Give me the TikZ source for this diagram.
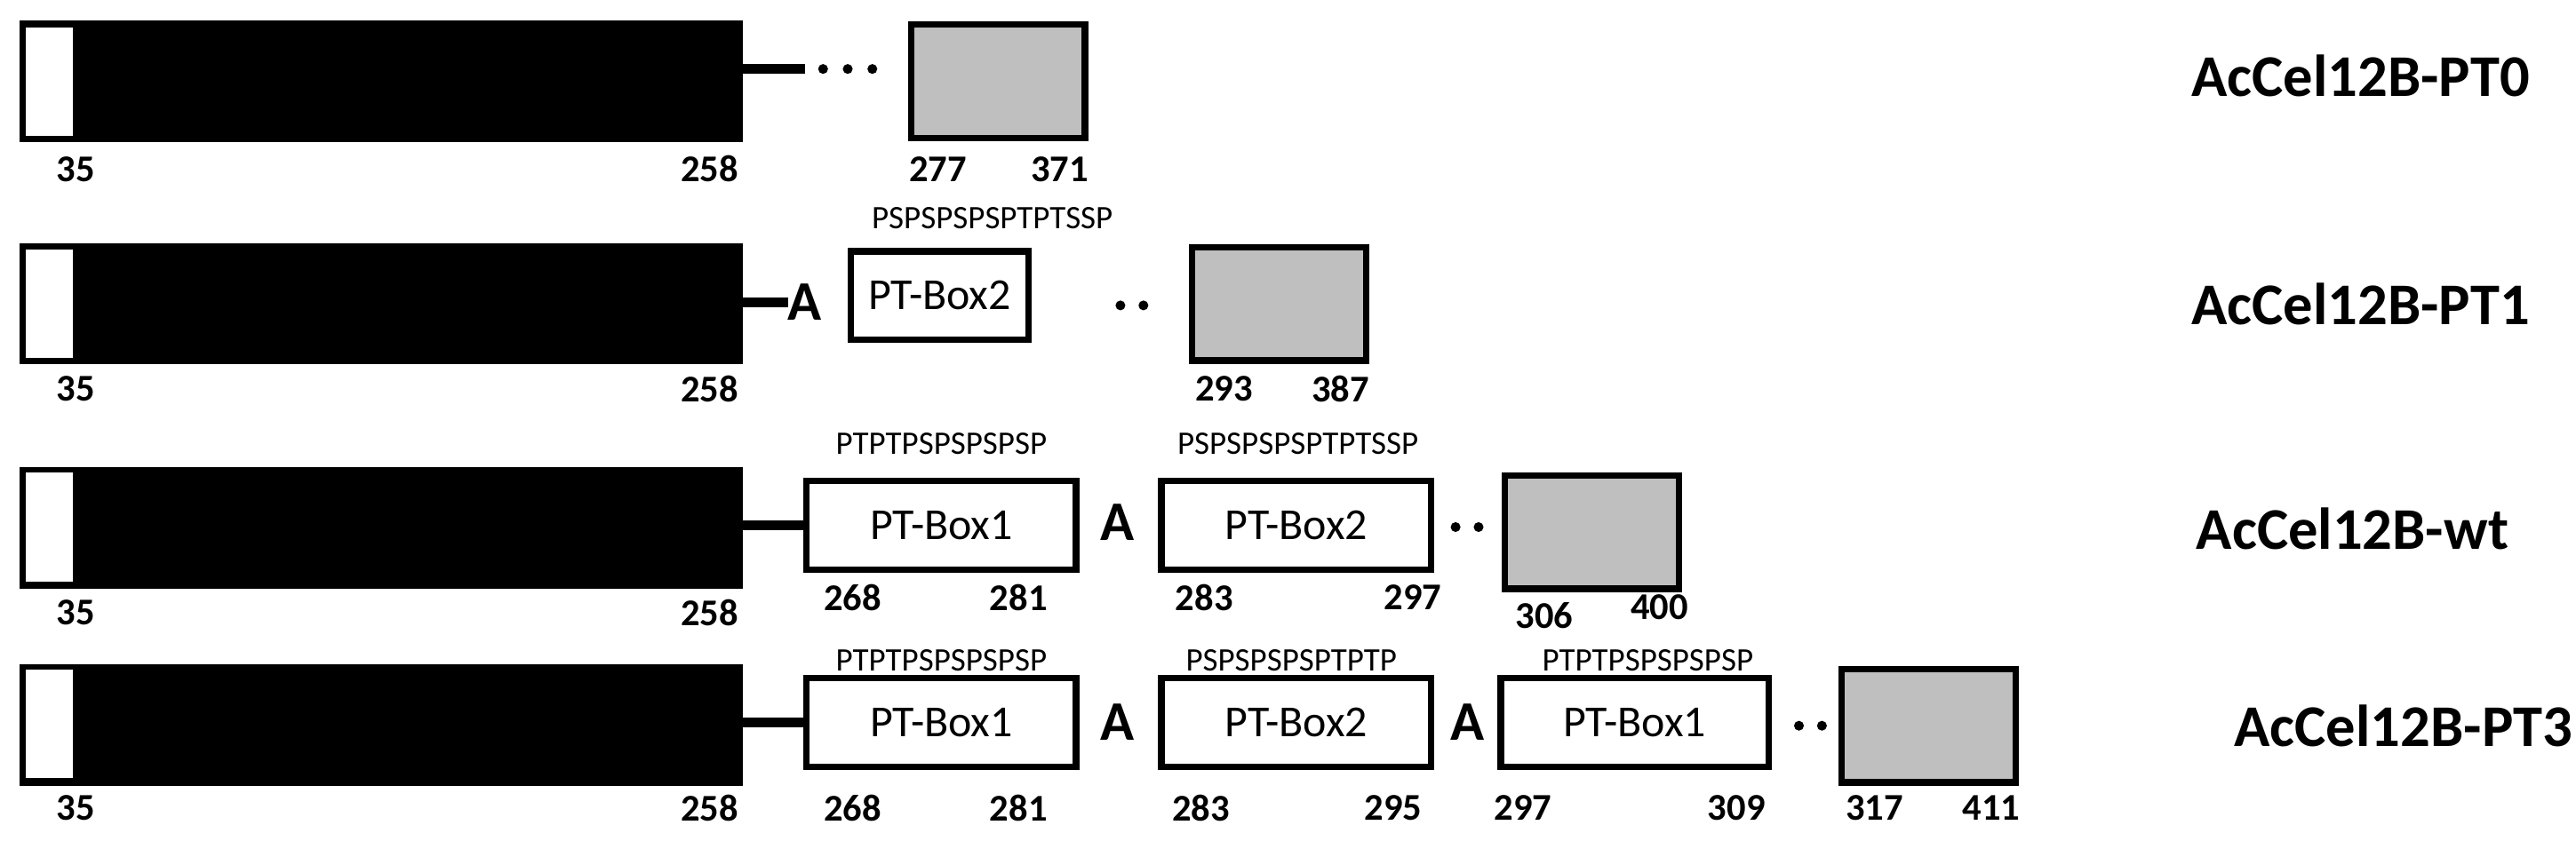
\documentclass[tikz,border=0pt]{standalone}
\usepackage{fontspec}
\setmainfont{Carlito}
\begin{document}
\begin{tikzpicture}[x=1pt,y=-1pt,
 cat/.style={draw=black,fill=black,line width=3pt,minimum width=437pt,minimum height=71pt,inner sep=0pt},
 sig/.style={fill=white,minimum width=29pt,minimum height=66pt,inner sep=0pt},
 cbm/.style={draw=black,fill=gray!50,line width=4pt,minimum width=106pt,minimum height=69pt,inner sep=0pt},
 box/.style={draw=black,fill=white,line width=4pt,minimum height=54pt,inner sep=0pt,font=\fontsize{27}{27}\selectfont},
 seq/.style={font=\fontsize{20}{20}\selectfont,inner sep=0pt},
 num/.style={font=\bfseries\fontsize{23}{23}\selectfont,inner sep=0pt},
 ala/.style={font=\bfseries\fontsize{34}{34}\selectfont,inner sep=0pt},
 ttl/.style={font=\bfseries\fontsize{36}{36}\selectfont,inner sep=0pt},
 lnk/.style={line width=6pt},
 dot/.style={circle,fill=black,inner sep=0pt,minimum size=6pt}]
\useasboundingbox (0,0) rectangle (1568,512);
% Row 1
\node[cat] (c1) at (232,49.5) {};
\node[sig] (s1) at (30,50) {};
\node[cbm] (g1) at (607.5,49.5) {};
\coordinate (e1) at (490,42);
\draw[lnk] (c1.east|-e1) -- (e1);
\node[dot] (d11) at (501,42) {};\node[dot] (d12) at (516,42) {};\node[dot] (d13) at (531,42) {};
\node[num] (n11) at (46,103) {35};\node[num] (n12) at (432,103) {258};
\node[num] (n13) at (571,103) {277};\node[num] (n14) at (645,103) {371};
\node[ttl,anchor=east] (t1) at (1540,46) {AcCel12B-PT0};
% Row 2
\node[cat] (c2) at (232,185) {};
\node[sig] (s2) at (30,185) {};
\node[ala] (a21) at (490,184) {A};
\draw[lnk] (c2.east|-a21) -- (a21.west);
\node[box,minimum width=108pt] (b21) at (572,180) {PT-Box2};
\node[seq] (q21) at (604,133) {PSPSPSPSPTPTSSP};
\node[dot] (d21) at (682,186) {};\node[dot] (d22) at (696,186) {};
\node[cbm] (g2) at (778.5,185) {};
\node[num] (n21) at (46,237) {35};\node[num] (n22) at (432,237) {258};
\node[num] (n23) at (745,237) {293};\node[num] (n24) at (816,237) {387};
\node[ttl,anchor=east] (t2) at (1540,185) {AcCel12B-PT1};
% Row 3
\node[cat] (c3) at (232,321.5) {};
\node[sig] (s3) at (30,321) {};
\node[box,minimum width=164pt] (b31) at (573,320) {PT-Box1};
\draw[lnk] (c3.east|-b31) -- (b31.west);
\node[seq] (q31) at (573,270) {PTPTPSPSPSPSP};
\node[ala] (a31) at (680,318) {A};
\node[box,minimum width=164pt] (b32) at (789,320) {PT-Box2};
\node[seq] (q32) at (790,270) {PSPSPSPSPTPTSSP};
\node[dot] (d31) at (886,321) {};\node[dot] (d32) at (900,321) {};
\node[cbm] (g3) at (969,324) {};
\node[num] (n31) at (46,373) {35};\node[num] (n32) at (432,373) {258};
\node[num] (n33) at (519,364) {268};\node[num] (n34) at (620,364) {281};
\node[num] (n35) at (733,364) {283};\node[num] (n36) at (860,364) {297};
\node[num] (n37) at (940,375) {306};\node[num] (n38) at (1010,370) {400};
\node[ttl] (t3) at (1432,322) {AcCel12B-wt};
% Row 4
\node[cat] (c4) at (232,441.5) {};
\node[sig] (s4) at (30,441) {};
\node[box,minimum width=164pt] (b41) at (573,440) {PT-Box1};
\draw[lnk] (c4.east|-b41) -- (b41.west);
\node[seq] (q41) at (573,402) {PTPTPSPSPSPSP};
\node[ala] (a41) at (680,440) {A};
\node[box,minimum width=164pt] (b42) at (789,440) {PT-Box2};
\node[seq] (q42) at (786,402) {PSPSPSPSPTPTP};
\node[ala] (a42) at (893,440) {A};
\node[box,minimum width=163pt] (b43) at (995,440) {PT-Box1};
\node[seq] (q43) at (1003,402) {PTPTPSPSPSPSP};
\node[dot] (d41) at (1095,442) {};\node[dot] (d42) at (1109,442) {};
\node[cbm] (g4) at (1174,442) {};
\node[num] (n41) at (46,492) {35};\node[num] (n42) at (432,492) {258};
\node[num] (n43) at (519,492) {268};\node[num] (n44) at (620,492) {281};
\node[num] (n45) at (731,492) {283};\node[num] (n46) at (848,492) {295};
\node[num] (n47) at (927,492) {297};\node[num] (n48) at (1057,492) {309};
\node[num] (n49) at (1141,492) {317};\node[num] (n410) at (1212,492) {411};
\node[ttl,anchor=east] (t4) at (1566,442) {AcCel12B-PT3};
\end{tikzpicture}
\end{document}
